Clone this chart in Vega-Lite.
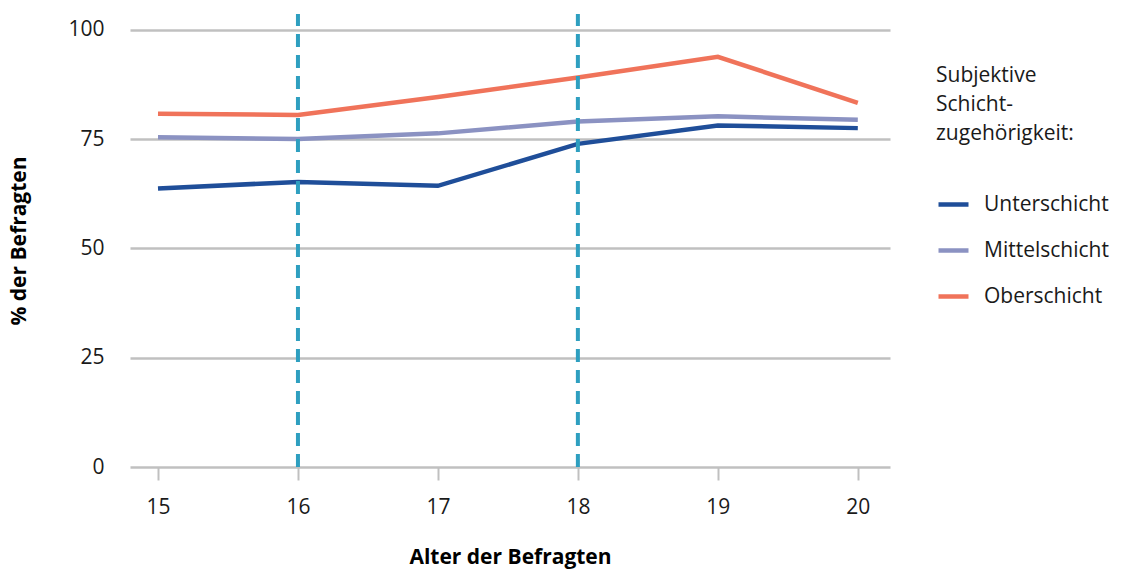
{
  "$schema": "https://vega.github.io/schema/vega-lite/v6.json",
  "autosize": {"type": "none"},
  "width": 760,
  "height": 453,
  "padding": {"left": 130, "top": 14, "right": 233, "bottom": 104},
  "background": "white",
  "config": {
    "view": {"stroke": null},
    "font": "Open Sans"
  },
  "datasets": {
    "lines": [
      {"alter": 15, "schicht": "Unterschicht", "wert": 63.7},
      {"alter": 16, "schicht": "Unterschicht", "wert": 65.2},
      {"alter": 17, "schicht": "Unterschicht", "wert": 64.3},
      {"alter": 18, "schicht": "Unterschicht", "wert": 73.9},
      {"alter": 19, "schicht": "Unterschicht", "wert": 78.1},
      {"alter": 20, "schicht": "Unterschicht", "wert": 77.5},
      {"alter": 15, "schicht": "Mittelschicht", "wert": 75.4},
      {"alter": 16, "schicht": "Mittelschicht", "wert": 75.0},
      {"alter": 17, "schicht": "Mittelschicht", "wert": 76.3},
      {"alter": 18, "schicht": "Mittelschicht", "wert": 79.0},
      {"alter": 19, "schicht": "Mittelschicht", "wert": 80.2},
      {"alter": 20, "schicht": "Mittelschicht", "wert": 79.4},
      {"alter": 15, "schicht": "Oberschicht", "wert": 80.8},
      {"alter": 16, "schicht": "Oberschicht", "wert": 80.5},
      {"alter": 17, "schicht": "Oberschicht", "wert": 84.6},
      {"alter": 18, "schicht": "Oberschicht", "wert": 89.1},
      {"alter": 19, "schicht": "Oberschicht", "wert": 93.8},
      {"alter": 20, "schicht": "Oberschicht", "wert": 83.3}
    ],
    "rules": [
      {"alter": 16, "y0": 0, "y1": 103.6},
      {"alter": 18, "y0": 0, "y1": 103.6}
    ]
  },
  "layer": [
    {
      "data": {"name": "lines"},
      "mark": {"type": "line", "strokeWidth": 4.5, "strokeCap": "butt", "strokeJoin": "miter"},
      "encoding": {
        "x": {
          "field": "alter", "type": "quantitative",
          "scale": {"domain": [14.8, 20.23], "nice": false, "zero": false},
          "axis": {
            "values": [15, 16, 17, 18, 19, 20],
            "format": "d",
            "title": "Alter der Befragten",
            "titleFont": "Open Sans", "titleFontSize": 21, "titleFontWeight": "bold", "titleColor": "#000000",
            "titlePadding": 29,
            "labelFont": "Open Sans", "labelFontSize": 21, "labelColor": "#1a1a1a", "labelPadding": 16,
            "domain": false, "grid": false,
            "ticks": true, "tickColor": "#c0c0c0", "tickWidth": 2, "tickSize": 13
          }
        },
        "y": {
          "field": "wert", "type": "quantitative",
          "scale": {"domain": [0, 103.6], "nice": false},
          "axis": {
            "values": [0, 25, 50, 75, 100],
            "title": "% der Befragten",
            "titleFont": "Open Sans", "titleFontSize": 21, "titleFontWeight": "bold", "titleColor": "#000000",
            "titlePadding": 38,
            "labelFont": "Open Sans", "labelFontSize": 21, "labelColor": "#1a1a1a", "labelPadding": 26,
            "domain": false, "ticks": false,
            "grid": true, "gridColor": "#c0c0c0", "gridWidth": 2.5
          }
        },
        "color": {
          "field": "schicht", "type": "nominal",
          "scale": {
            "domain": ["Unterschicht", "Mittelschicht", "Oberschicht"],
            "range": ["#1f4e99", "#8b92c2", "#f0735a"]
          },
          "legend": {
            "title": ["Subjektive", "Schicht-", "zugehörigkeit:"],
            "orient": "none",
            "legendX": 806,
            "legendY": 51,
            "titleFont": "Open Sans", "titleFontSize": 21, "titleFontWeight": "normal", "titleColor": "#1a1a1a",
            "titleLineHeight": 29, "titlePadding": 43,
            "labelFont": "Open Sans", "labelFontSize": 21, "labelColor": "#1a1a1a", "labelOffset": 13,
            "symbolType": "stroke", "symbolSize": 900, "symbolStrokeWidth": 4.5,
            "rowPadding": 18
          }
        }
      }
    },
    {
      "data": {"name": "rules"},
      "mark": {"type": "rule", "color": "#2e9fc0", "strokeWidth": 4, "strokeDash": [13, 8]},
      "encoding": {
        "x": {"field": "alter", "type": "quantitative"},
        "y": {"field": "y0", "type": "quantitative"},
        "y2": {"field": "y1"}
      }
    }
  ]
}
